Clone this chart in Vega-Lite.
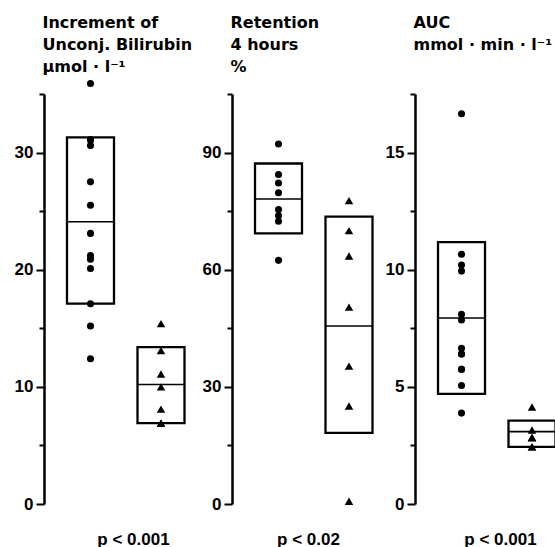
{
  "$schema": "https://vega.github.io/schema/vega-lite/v6.json",
  "background": "white",
  "padding": {"left": 14, "top": 14, "right": 0, "bottom": 0},
  "bounds": "flush",
  "spacing": 40,
  "config": {
    "view": {"stroke": null},
    "font": "Liberation Sans",
    "axis": {
      "grid": false,
      "domainColor": "black",
      "tickColor": "black",
      "labelColor": "black",
      "titleColor": "black",
      "labelFont": "Liberation Sans",
      "labelFontSize": 17,
      "labelFontWeight": "bold",
      "titleFont": "DejaVu Sans",
      "titleFontSize": 16,
      "titleFontWeight": "bold"
    }
  },
  "datasets": {
    "boxes": [
      {"panel": 1, "group": "A", "lo": 17.1, "mid": 24.1, "hi": 31.3},
      {"panel": 1, "group": "B", "lo": 6.9, "mid": 10.2, "hi": 13.4},
      {"panel": 2, "group": "A", "lo": 69.3, "mid": 78.1, "hi": 87.2},
      {"panel": 2, "group": "B", "lo": 18.2, "mid": 45.6, "hi": 73.6},
      {"panel": 3, "group": "A", "lo": 4.7, "mid": 7.94, "hi": 11.18},
      {"panel": 3, "group": "B", "lo": 2.44, "mid": 3.09, "hi": 3.56}
    ],
    "points": [
      {"panel": 1, "group": "A", "value": 35.9},
      {"panel": 1, "group": "A", "value": 31.1},
      {"panel": 1, "group": "A", "value": 31.1},
      {"panel": 1, "group": "A", "value": 30.6},
      {"panel": 1, "group": "A", "value": 27.5},
      {"panel": 1, "group": "A", "value": 25.5},
      {"panel": 1, "group": "A", "value": 23.1},
      {"panel": 1, "group": "A", "value": 21.2},
      {"panel": 1, "group": "A", "value": 20.9},
      {"panel": 1, "group": "A", "value": 20.1},
      {"panel": 1, "group": "A", "value": 17.1},
      {"panel": 1, "group": "A", "value": 15.2},
      {"panel": 1, "group": "A", "value": 12.4},
      {"panel": 1, "group": "B", "value": 15.4},
      {"panel": 1, "group": "B", "value": 13.1},
      {"panel": 1, "group": "B", "value": 11.1},
      {"panel": 1, "group": "B", "value": 10.0},
      {"panel": 1, "group": "B", "value": 8.1},
      {"panel": 1, "group": "B", "value": 6.9},
      {"panel": 1, "group": "B", "value": 6.9},
      {"panel": 2, "group": "A", "value": 92.2},
      {"panel": 2, "group": "A", "value": 84.4},
      {"panel": 2, "group": "A", "value": 82.2},
      {"panel": 2, "group": "A", "value": 79.7},
      {"panel": 2, "group": "A", "value": 75.4},
      {"panel": 2, "group": "A", "value": 73.9},
      {"panel": 2, "group": "A", "value": 72.4},
      {"panel": 2, "group": "A", "value": 62.4},
      {"panel": 2, "group": "B", "value": 77.7},
      {"panel": 2, "group": "B", "value": 70.0},
      {"panel": 2, "group": "B", "value": 63.5},
      {"panel": 2, "group": "B", "value": 50.4},
      {"panel": 2, "group": "B", "value": 35.3},
      {"panel": 2, "group": "B", "value": 25.1},
      {"panel": 2, "group": "B", "value": 0.7},
      {"panel": 3, "group": "A", "value": 16.66},
      {"panel": 3, "group": "A", "value": 10.66},
      {"panel": 3, "group": "A", "value": 10.2},
      {"panel": 3, "group": "A", "value": 9.94},
      {"panel": 3, "group": "A", "value": 8.1},
      {"panel": 3, "group": "A", "value": 7.85},
      {"panel": 3, "group": "A", "value": 6.65},
      {"panel": 3, "group": "A", "value": 6.4},
      {"panel": 3, "group": "A", "value": 6.4},
      {"panel": 3, "group": "A", "value": 5.75},
      {"panel": 3, "group": "A", "value": 5.75},
      {"panel": 3, "group": "A", "value": 5.06},
      {"panel": 3, "group": "A", "value": 3.88},
      {"panel": 3, "group": "B", "value": 4.14},
      {"panel": 3, "group": "B", "value": 3.16},
      {"panel": 3, "group": "B", "value": 2.83},
      {"panel": 3, "group": "B", "value": 2.83},
      {"panel": 3, "group": "B", "value": 2.83},
      {"panel": 3, "group": "B", "value": 2.44},
      {"panel": 3, "group": "B", "value": 2.44}
    ]
  },
  "hconcat": [
    {
      "width": 148,
      "height": 410,
      "encoding": {
        "x": {
          "field": "group", "type": "nominal",
          "scale": {"domain": ["A", "B"], "paddingInner": 0.3333, "paddingOuter": 0.2163, "align": 0.754},
          "axis": {"title": "p < 0.001", "domain": false, "ticks": false, "labels": false, "titleFont": "Liberation Sans", "titleFontSize": 17, "titleX": 89, "titleY": 40, "titleAlign": "center", "titleBaseline": "alphabetic"}
        }
      },
      "layer": [
        {
          "data": {"name": "boxes"},
          "transform": [{"filter": "datum.panel === 1"}],
          "mark": {"type": "rect", "filled": false, "stroke": "black", "strokeWidth": 2.3},
          "encoding": {
            "y": {
              "field": "lo", "type": "quantitative",
              "scale": {"domain": [0, 35], "nice": false},
              "axis": {
                "title": ["Increment of", "Unconj. Bilirubin", "µmol · l⁻¹"],
                "titleAngle": 0, "titleAlign": "left", "titleBaseline": "alphabetic",
                "titleX": -2, "titleY": -67, "titleLineHeight": 22,
                "values": [0, 5, 10, 15, 20, 25, 30, 35],
                "labelExpr": "datum.value % 10 === 0 ? datum.label : ''",
                "domainWidth": 2.5, "tickWidth": 2,
                "tickSize": {"condition": {"test": "datum.value % 10 === 0", "value": 8}, "value": 5},
                "labelPadding": 3
              }
            },
            "y2": {"field": "hi"}
          }
        },
        {
          "data": {"name": "boxes"},
          "transform": [{"filter": "datum.panel === 1"}],
          "mark": {"type": "tick", "orient": "horizontal", "size": 47, "thickness": 1.6, "color": "black", "opacity": 1},
          "encoding": {"y": {"field": "mid", "type": "quantitative"}}
        },
        {
          "data": {"name": "points"},
          "transform": [{"filter": "datum.panel === 1"}],
          "mark": {"type": "point", "filled": true, "color": "black", "opacity": 1},
          "encoding": {
            "y": {"field": "value", "type": "quantitative"},
            "shape": {"field": "group", "type": "nominal", "scale": {"domain": ["A", "B"], "range": ["circle", "triangle-up"]}, "legend": null},
            "size": {"field": "group", "type": "nominal", "scale": {"domain": ["A", "B"], "range": [50, 72]}, "legend": null}
          }
        }
      ]
    },
    {
      "width": 143,
      "height": 410,
      "encoding": {
        "x": {
          "field": "group", "type": "nominal",
          "scale": {"domain": ["A", "B"], "paddingInner": 0.3333, "paddingOuter": 0.1809, "align": 0.902},
          "axis": {"title": "p < 0.02", "domain": false, "ticks": false, "labels": false, "titleFont": "Liberation Sans", "titleFontSize": 17, "titleX": 76, "titleY": 40, "titleAlign": "center", "titleBaseline": "alphabetic"}
        }
      },
      "layer": [
        {
          "data": {"name": "boxes"},
          "transform": [{"filter": "datum.panel === 2"}],
          "mark": {"type": "rect", "filled": false, "stroke": "black", "strokeWidth": 2.3},
          "encoding": {
            "y": {
              "field": "lo", "type": "quantitative",
              "scale": {"domain": [0, 105], "nice": false},
              "axis": {
                "title": ["Retention", "4 hours", "%"],
                "titleAngle": 0, "titleAlign": "left", "titleBaseline": "alphabetic",
                "titleX": -2, "titleY": -67, "titleLineHeight": 22,
                "values": [0, 15, 30, 45, 60, 75, 90, 105],
                "labelExpr": "datum.value % 30 === 0 ? datum.label : ''",
                "domainWidth": 2.5, "tickWidth": 2,
                "tickSize": {"condition": {"test": "datum.value % 30 === 0", "value": 8}, "value": 5},
                "labelPadding": 3
              }
            },
            "y2": {"field": "hi"}
          }
        },
        {
          "data": {"name": "boxes"},
          "transform": [{"filter": "datum.panel === 2"}],
          "mark": {"type": "tick", "orient": "horizontal", "size": 47, "thickness": 1.6, "color": "black", "opacity": 1},
          "encoding": {"y": {"field": "mid", "type": "quantitative"}}
        },
        {
          "data": {"name": "points"},
          "transform": [{"filter": "datum.panel === 2"}],
          "mark": {"type": "point", "filled": true, "color": "black", "opacity": 1},
          "encoding": {
            "y": {"field": "value", "type": "quantitative"},
            "shape": {"field": "group", "type": "nominal", "scale": {"domain": ["A", "B"], "range": ["circle", "triangle-up"]}, "legend": null},
            "size": {"field": "group", "type": "nominal", "scale": {"domain": ["A", "B"], "range": [50, 72]}, "legend": null}
          }
        }
      ]
    },
    {
      "width": 142,
      "height": 410,
      "encoding": {
        "x": {
          "field": "group", "type": "nominal",
          "scale": {"domain": ["A", "B"], "paddingInner": 0.3333, "paddingOuter": 0.1738, "align": 0.939},
          "axis": {"title": "p < 0.001", "domain": false, "ticks": false, "labels": false, "titleFont": "Liberation Sans", "titleFontSize": 17, "titleX": 85, "titleY": 40, "titleAlign": "center", "titleBaseline": "alphabetic"}
        }
      },
      "layer": [
        {
          "data": {"name": "boxes"},
          "transform": [{"filter": "datum.panel === 3"}],
          "mark": {"type": "rect", "filled": false, "stroke": "black", "strokeWidth": 2.3},
          "encoding": {
            "y": {
              "field": "lo", "type": "quantitative",
              "scale": {"domain": [0, 17.5], "nice": false},
              "axis": {
                "title": ["AUC", "mmol · min · l⁻¹"],
                "titleAngle": 0, "titleAlign": "left", "titleBaseline": "alphabetic",
                "titleX": -2, "titleY": -67, "titleLineHeight": 22,
                "values": [0, 2.5, 5, 7.5, 10, 12.5, 15, 17.5],
                "labelExpr": "datum.value % 5 === 0 ? datum.label : ''",
                "domainWidth": 2.5, "tickWidth": 2,
                "tickSize": {"condition": {"test": "datum.value % 5 === 0", "value": 8}, "value": 5},
                "labelPadding": 3
              }
            },
            "y2": {"field": "hi"}
          }
        },
        {
          "data": {"name": "boxes"},
          "transform": [{"filter": "datum.panel === 3"}],
          "mark": {"type": "tick", "orient": "horizontal", "size": 47, "thickness": 1.6, "color": "black", "opacity": 1},
          "encoding": {"y": {"field": "mid", "type": "quantitative"}}
        },
        {
          "data": {"name": "points"},
          "transform": [{"filter": "datum.panel === 3"}],
          "mark": {"type": "point", "filled": true, "color": "black", "opacity": 1},
          "encoding": {
            "y": {"field": "value", "type": "quantitative"},
            "shape": {"field": "group", "type": "nominal", "scale": {"domain": ["A", "B"], "range": ["circle", "triangle-up"]}, "legend": null},
            "size": {"field": "group", "type": "nominal", "scale": {"domain": ["A", "B"], "range": [50, 72]}, "legend": null}
          }
        }
      ]
    }
  ]
}
